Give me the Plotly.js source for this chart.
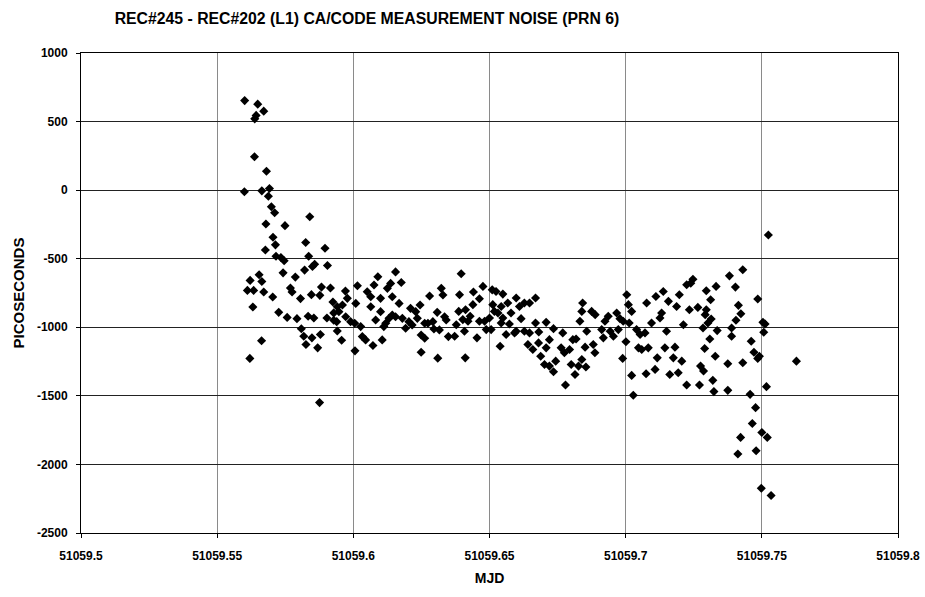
<!DOCTYPE html>
<html><head><meta charset="utf-8">
<script src="https://cdn.plot.ly/plotly-3.0.1.min.js"></script>
<style>html,body{margin:0;padding:0;background:#fff}#chart{width:925px;height:597px}</style>
</head><body><div id="chart"></div>
<script>
const chartTitle = "REC#245 - REC#202 (L1) CA/CODE MEASUREMENT NOISE (PRN 6)";
const xTitle = "MJD";
const yTitle = "PICOSECONDS";
const xTickVals = [51059.5, 51059.55, 51059.6, 51059.65, 51059.7, 51059.75, 51059.8];
const xTickText = ["51059.5", "51059.55", "51059.6", "51059.65", "51059.7", "51059.75", "51059.8"];
const yTickVals = [1000, 500, 0, -500, -1000, -1500, -2000, -2500];
const yTickText = ["1000", "500", "0", "-500", "-1000", "-1500", "-2000", "-2500"];

// MJD segment 51059.56 - 51059.593
const mjdSeg1 = [51059.5601,51059.5649,51059.5671,51059.5643,51059.5638,51059.5637,51059.5681,51059.5600,51059.5664,51059.5692,51059.5688,51059.5699,51059.5711,51059.5679,51059.5749,51059.5840,51059.5705,51059.5714,51059.5677,51059.5825,51059.5896,51059.5716,51059.5734,51059.5746,51059.5836,51059.5858,51059.5850,51059.5905,51059.5821,51059.5654,51059.5621,51059.5664,51059.5742,51059.5787,51059.5611,51059.5634,51059.5671,51059.5704,51059.5769,51059.5775,51059.5806,51059.5846,51059.5883,51059.5877,51059.5916,51059.5925,51059.5631,51059.5726,51059.5793,51059.5834,51059.5855,51059.5903,51059.5928,51059.5757,51059.5663,51059.5809,51059.5818,51059.5826,51059.5848,51059.5879,51059.5869,51059.5620,51059.5876,51059.5928];
const psSeg1 = [653,627,576,545,520,244,138,-12,-5,12,-44,-121,-165,-247,-259,-194,-344,-399,-436,-382,-424,-482,-491,-515,-482,-540,-557,-549,-583,-617,-658,-666,-603,-634,-731,-731,-743,-779,-714,-743,-791,-762,-707,-767,-714,-816,-852,-891,-937,-920,-932,-932,-895,-928,-1098,-1011,-1065,-1126,-1077,-1053,-1150,-1227,-1549,-949];

// MJD segment 51059.594 - 51059.635
const mjdSeg2 = [51059.5941,51059.5947,51059.5971,51059.5978,51059.5960,51059.5939,51059.5941,51059.5957,51059.5972,51059.5990,51059.6005,51059.6015,51059.6009,51059.6027,51059.6033,51059.6006,51059.6045,51059.6051,51059.6064,51059.6064,51059.6076,51059.6090,51059.6082,51059.6100,51059.6100,51059.6119,51059.6112,51059.6072,51059.6106,51059.6125,51059.6137,51059.6155,51059.6143,51059.6176,51059.6168,51059.6143,51059.6155,51059.6131,51059.6180,51059.6192,51059.6204,51059.6210,51059.6229,51059.6245,51059.6235,51059.6216,51059.6249,51059.6262,51059.6249,51059.6262,51059.6280,51059.6292,51059.6296,51059.6310,51059.6308,51059.6323,51059.6329,51059.6335,51059.6341,51059.6349,51059.6316,51059.6274];
const psSeg2 = [-850,-886,-736,-789,-838,-959,-1027,-1094,-923,-959,-971,-697,-826,-995,-1068,-1172,-1092,-741,-777,-850,-692,-632,-947,-789,-886,-971,-995,-1133,-1092,-716,-680,-596,-777,-673,-826,-910,-923,-935,-935,-1007,-959,-862,-886,-838,-935,-983,-1056,-1080,-1182,-971,-772,-959,-1012,-1225,-891,-716,-765,-923,-947,-1068,-1019,-971];

// MJD segment 51059.637 - 51059.681
const mjdSeg3 = [51059.6396,51059.6390,51059.6412,51059.6387,51059.6402,51059.6429,51059.6439,51059.6441,51059.6421,51059.6408,51059.6378,51059.6372,51059.6454,51059.6411,51059.6463,51059.6476,51059.6463,51059.6482,51059.6488,51059.6506,51059.6500,51059.6510,51059.6524,51059.6512,51059.6518,51059.6531,51059.6549,51059.6543,51059.6549,51059.6543,51059.6567,51059.6579,51059.6573,51059.6561,51059.6539,51059.6598,51059.6610,51059.6628,51059.6616,51059.6598,51059.6592,51059.6669,51059.6647,51059.6669,51059.6647,51059.6681,51059.6708,51059.6641,51059.6659,51059.6688,51059.6680,51059.6708,51059.6720,51059.6702,51059.6720,51059.6735,51059.6743,51059.6735,51059.6769,51059.6763,51059.6775,51059.6794,51059.6779,51059.6800,51059.6806,51059.6628];
const psSeg3 = [-610,-763,-872,-884,-944,-920,-835,-743,-956,-1029,-981,-1065,-1077,-1223,-792,-702,-956,-956,-1017,-1017,-932,-727,-739,-835,-884,-896,-758,-848,-932,-969,-823,-896,-976,-1053,-1138,-787,-848,-823,-937,-1029,-1041,-787,-823,-969,-1041,-1034,-964,-1126,-1162,-1211,-1114,-1150,-1090,-1271,-1283,-1324,-1247,-1010,-1041,-1150,-1186,-1162,-1421,-1271,-1090,-1029];

// MJD segment 51059.681 - 51059.725
const mjdSeg4 = [51059.6842,51059.6839,51059.6875,51059.6888,51059.6832,51059.6857,51059.6818,51059.6851,51059.6881,51059.6887,51059.6839,51059.6827,51059.6854,51059.6814,51059.6912,51059.6924,51059.6936,51059.6943,51059.6955,51059.6918,51059.6967,51059.6979,51059.6991,51059.6973,51059.7004,51059.7010,51059.7022,51059.7013,51059.7001,51059.6989,51059.7040,51059.7053,51059.7071,51059.7047,51059.7059,51059.7083,51059.7022,51059.7028,51059.7077,51059.7075,51059.7108,51059.7116,51059.7111,51059.7095,51059.7126,51059.7138,51059.7157,51059.7150,51059.7144,51059.7162,51059.7175,51059.7181,51059.7187,51059.7197,51059.7212,51059.7206,51059.7193,51059.7224,51059.7234,51059.7224,51059.7239,51059.7132,51059.7247];
const psSeg4 = [-823,-884,-884,-908,-956,-1029,-1085,-1145,-1126,-1186,-1235,-1283,-1290,-1344,-1017,-956,-920,-1029,-1065,-1077,-896,-937,-956,-1017,-763,-835,-884,-969,-1106,-1227,-1017,-1053,-1041,-1150,-1162,-1150,-1351,-1496,-823,-1339,-1307,-1223,-775,-969,-932,-739,-811,-1029,-1150,-1344,-1223,-1145,-848,-763,-981,-1247,-1332,-1421,-872,-690,-678,-896,-650];

// MJD segment 51059.726 - 51059.763
const mjdSeg5 = [51059.7524,51059.7296,51059.7332,51059.7381,51059.7430,51059.7403,51059.7312,51059.7265,51059.7296,51059.7292,51059.7314,51059.7302,51059.7284,51059.7336,51059.7309,51059.7290,51059.7329,51059.7275,51059.7286,51059.7271,51059.7320,51059.7324,51059.7375,51059.7375,51059.7414,51059.7423,51059.7405,51059.7389,51059.7389,51059.7430,51059.7461,51059.7471,51059.7485,51059.7491,51059.7485,51059.7504,51059.7512,51059.7507,51059.7627,51059.7517,51059.7457,51059.7477,51059.7465,51059.7422,51059.7412,51059.7479,51059.7500,51059.7520,51059.7498,51059.7534];
const psSeg5 = [-327,-734,-702,-625,-581,-707,-799,-855,-872,-908,-940,-969,-1005,-1024,-1085,-1155,-1211,-1283,-1319,-1421,-1387,-1469,-1266,-1460,-840,-901,-949,-1005,-1065,-1259,-1102,-1182,-1227,-1211,-794,-964,-976,-1036,-1247,-1433,-1489,-1586,-1702,-1803,-1924,-1900,-1767,-1803,-2174,-2227];

const mjd = [].concat(mjdSeg1, mjdSeg2, mjdSeg3, mjdSeg4, mjdSeg5);
const picoseconds = [].concat(psSeg1, psSeg2, psSeg3, psSeg4, psSeg5);

const FONT = "Arial, 'Liberation Sans', Helvetica, sans-serif";

const trace = {
  type: 'scatter', mode: 'markers', x: mjd, y: picoseconds,
  marker: {symbol: 'diamond', size: 7, color: '#000', line: {width: 0}},
  hoverinfo: 'x+y', showlegend: false
};

const layout = {
  width: 925, height: 597,
  paper_bgcolor: '#fff', plot_bgcolor: '#fff',
  font: {family: FONT, color: '#000', size: 12},
  margin: {l: 81, r: 27, t: 53, b: 64, pad: 0},
  title: {
    text: '<b>' + chartTitle + '</b>',
    font: {family: FONT, size: 15.8, color: '#000'},
    xref: 'container', x: 367 / 925, xanchor: 'center',
    yref: 'container', y: 1 - 18 / 597, yanchor: 'middle'
  },
  xaxis: {
    range: [51059.5, 51059.8], tickvals: xTickVals, ticktext: xTickText,
    showgrid: true, gridcolor: '#8a8a8a', gridwidth: 1,
    showline: true, linecolor: '#000', linewidth: 1, mirror: true,
    ticks: 'outside', ticklen: 4, tickcolor: '#000',
    ticklabelstandoff: 8,
    tickfont: {family: FONT, size: 12, color: '#000', weight: 'bold'},
    zeroline: false,
    title: {text: '<b>' + xTitle + '</b>', font: {family: FONT, size: 14, color: '#000'}, standoff: 10}
  },
  yaxis: {
    range: [-2500, 1000], tickvals: yTickVals, ticktext: yTickText,
    showgrid: true, gridcolor: '#222', gridwidth: 1,
    showline: true, linecolor: '#000', linewidth: 1, mirror: true,
    ticks: 'outside', ticklen: 4, tickcolor: '#000',
    ticklabelstandoff: 6,
    tickfont: {family: FONT, size: 12, color: '#000', weight: 'bold'},
    zeroline: false,
    title: {text: '<b>' + yTitle + '</b>', font: {family: FONT, size: 15, color: '#000'}, standoff: 8}
  }
};

Plotly.newPlot('chart', [trace], layout, {displayModeBar: false, staticPlot: true});
</script>
</body></html>
